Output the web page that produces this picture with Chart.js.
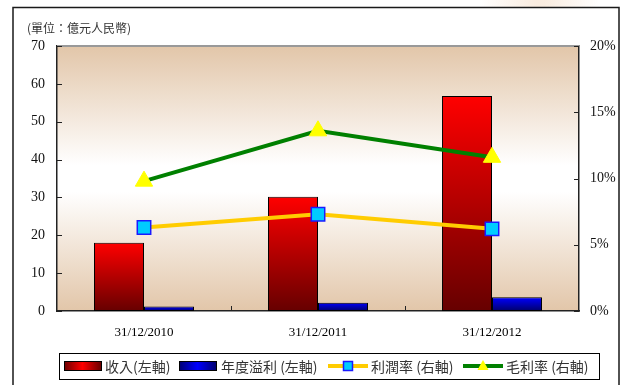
<!DOCTYPE html>
<html>
<head>
<meta charset="utf-8">
<script src="https://cdn.jsdelivr.net/npm/chart.js@4.4.0/dist/chart.umd.min.js"></script>
<style>
  body { margin: 0; background: #ffffff; }
  #wrap { width: 630px; height: 385px; }
</style>
</head>
<body>
<div id="wrap"><canvas id="mycanvas" width="630" height="385"></canvas></div>
<script>
const labels = ["31/12/2010", "31/12/2011", "31/12/2012"];
const revenue = [18.0, 30.2, 56.8];     // 收入 (億元人民幣)
const netProfit = [1.2, 2.2, 3.6];      // 年度溢利
const profitMargin = [6.3, 7.3, 6.2];   // 利潤率 %
const grossMargin = [9.8, 13.6, 11.6];  // 毛利率 %
const leftTicks = [0, 70, 10];
const rightTicks = [0, 20, 5];

const unitText = "(單位：億元人民幣)";
const cjk = '"Noto Sans CJK TC", "Noto Sans", sans-serif';
const serif = '"Liberation Serif", "DejaVu Serif", serif';

// gradient per bar, bright at the top and dark at the base
function barFill(top, bottom) {
  return function (c) {
    const chart = c.chart;
    if (!chart.chartArea || !c.parsed) return top;
    const y = chart.scales.y;
    const y0 = y.getPixelForValue(c.parsed.y);
    const y1 = y.getPixelForValue(0);
    const g = chart.ctx.createLinearGradient(0, y0, 0, y1);
    g.addColorStop(0, top);
    g.addColorStop(1, bottom);
    return g;
  };
}

const framePlugin = {
  id: "frame",
  beforeDraw(chart) {
    const ctx = chart.ctx;
    const a = chart.chartArea;
    ctx.save();
    // faint smudge at the top
    const rg = ctx.createRadialGradient(540, 0, 5, 540, 0, 60);
    rg.addColorStop(0, "rgba(238,200,165,0.35)");
    rg.addColorStop(1, "rgba(238,200,165,0)");
    ctx.fillStyle = rg;
    ctx.fillRect(470, 0, 140, 8);
    // plot background
    const g = ctx.createLinearGradient(0, a.top, 0, a.bottom);
    g.addColorStop(0, "#e2c6a9");
    g.addColorStop(0.45, "#ffffff");
    g.addColorStop(0.55, "#ffffff");
    g.addColorStop(1, "#e2c6a9");
    ctx.fillStyle = g;
    ctx.fillRect(a.left, a.top, a.right - a.left, a.bottom - a.top);
    // outer frame
    ctx.strokeStyle = "#1a1a1a";
    ctx.lineWidth = 1.5;
    ctx.beginPath();
    ctx.moveTo(13, 385);
    ctx.lineTo(13, 7.5);
    ctx.lineTo(619, 7.5);
    ctx.lineTo(619, 385);
    ctx.stroke();
    // unit
    ctx.fillStyle = "#333333";
    ctx.font = "12px " + cjk;
    ctx.textBaseline = "middle";
    ctx.fillText(unitText, 27, 28);
    ctx.restore();
  },
  afterDraw(chart) {
    const ctx = chart.ctx;
    const a = chart.chartArea;
    const x = chart.scales.x, y = chart.scales.y, y1 = chart.scales.y1;
    ctx.save();
    ctx.strokeStyle = "#999999";
    ctx.lineWidth = 2;
    ctx.beginPath();
    ctx.moveTo(a.left, a.top);
    ctx.lineTo(a.right, a.top);
    ctx.stroke();
    // inward tick marks
    ctx.strokeStyle = "#222222";
    ctx.lineWidth = 1;
    ctx.beginPath();
    y.ticks.forEach(t => {
      const p = Math.round(y.getPixelForValue(t.value)) + 0.5;
      ctx.moveTo(a.left, p); ctx.lineTo(a.left + 5, p);
    });
    y1.ticks.forEach(t => {
      const p = Math.round(y1.getPixelForValue(t.value)) + 0.5;
      ctx.moveTo(a.right, p); ctx.lineTo(a.right - 5, p);
    });
    for (let i = 1; i < labels.length; i++) {
      const p = Math.round((x.getPixelForValue(i - 1) + x.getPixelForValue(i)) / 2) + 0.5;
      ctx.moveTo(p, a.bottom); ctx.lineTo(p, a.bottom - 5);
    }
    ctx.stroke();

    // legend
    const lx = 59, ly = 353, lw = 540, lh = 26, cy = ly + lh / 2;
    ctx.fillStyle = "#ffffff";
    ctx.fillRect(lx, ly, lw, lh);
    ctx.strokeStyle = "#000000";
    ctx.lineWidth = 1;
    ctx.strokeRect(lx + 0.5, ly + 0.5, lw, lh);
    ctx.font = "14px " + cjk;
    ctx.textBaseline = "middle";
    const ds = chart.data.datasets;
    const boxes = [[64, "#ff0000", "#6a0000", 105], [179, "#0000ff", "#000070", 221]];
    boxes.forEach((b, i) => {
      const g = ctx.createLinearGradient(b[0], 0, b[0] + 37, 0);
      g.addColorStop(0, b[2]);
      g.addColorStop(0.5, b[1]);
      g.addColorStop(1, b[2]);
      ctx.fillStyle = g;
      ctx.fillRect(b[0], cy - 5, 37, 10);
      ctx.strokeStyle = "#000000";
      ctx.strokeRect(b[0] + 0.5, cy - 4.5, 37, 9);
      ctx.fillStyle = "#333333";
      ctx.fillText(ds[i].label, b[3], cy + 1);
    });
    const lines = [[328, 2, 371], [463, 3, 506]];
    lines.forEach(l => {
      const d = ds[l[1]];
      ctx.strokeStyle = d.borderColor;
      ctx.lineWidth = 4;
      ctx.beginPath();
      ctx.moveTo(l[0], cy); ctx.lineTo(l[0] + 40, cy);
      ctx.stroke();
      const mx = l[0] + 20;
      ctx.fillStyle = d.pointBackgroundColor;
      ctx.strokeStyle = d.pointBorderColor;
      ctx.lineWidth = 1.5;
      if (d.pointStyle === "rect") {
        ctx.fillRect(mx - 4.5, cy - 4.5, 9, 9);
        ctx.strokeRect(mx - 4.5, cy - 4.5, 9, 9);
      } else {
        ctx.beginPath();
        ctx.moveTo(mx, cy - 6); ctx.lineTo(mx + 5.5, cy + 4); ctx.lineTo(mx - 5.5, cy + 4);
        ctx.closePath();
        ctx.fill();
      }
      ctx.fillStyle = "#333333";
      ctx.fillText(d.label, l[2], cy + 1);
    });
    ctx.restore();
  }
};

const myChart = new Chart(document.getElementById("mycanvas"), {
  type: "bar",
  data: {
    labels: labels,
    datasets: [
      {
        label: "收入(左軸)",
        data: revenue,
        yAxisID: "y",
        backgroundColor: barFill("#ff0000", "#660000"),
        borderColor: "#000000",
        borderWidth: 1,
        borderSkipped: false,
        categoryPercentage: 0.575,
        barPercentage: 1.0,
        order: 2
      },
      {
        label: "年度溢利 (左軸)",
        data: netProfit,
        yAxisID: "y",
        backgroundColor: barFill("#0000ff", "#00006a"),
        borderColor: "#000000",
        borderWidth: 1,
        borderSkipped: false,
        categoryPercentage: 0.575,
        barPercentage: 1.0,
        order: 2
      },
      {
        type: "line",
        label: "利潤率 (右軸)",
        data: profitMargin,
        yAxisID: "y1",
        borderColor: "#ffcc00",
        borderWidth: 4,
        pointStyle: "rect",
        pointRadius: 9.5,
        pointBackgroundColor: "#00ccff",
        pointBorderColor: "#1a1aff",
        pointBorderWidth: 1.5,
        tension: 0,
        order: 1
      },
      {
        type: "line",
        label: "毛利率 (右軸)",
        data: grossMargin,
        yAxisID: "y1",
        borderColor: "#008000",
        borderWidth: 4,
        pointStyle: "triangle",
        pointRadius: 10,
        pointBackgroundColor: "#ffff00",
        pointBorderColor: "#ffff00",
        pointBorderWidth: 1,
        tension: 0,
        order: 0
      }
    ]
  },
  options: {
    responsive: false,
    animation: false,
    devicePixelRatio: 1,
    layout: { padding: { top: 46, left: 0, right: 0, bottom: 0 } },
    plugins: { legend: { display: false }, tooltip: { enabled: false } },
    scales: {
      x: {
        grid: { display: false, drawTicks: false },
        border: { display: true, color: "#222222", width: 1.5 },
        ticks: { color: "#000000", font: { family: serif, size: 13 }, padding: 14 },
        afterFit(s) { s.height = 74; }
      },
      y: {
        position: "left",
        min: leftTicks[0], max: leftTicks[1],
        grid: { display: false, drawTicks: false },
        border: { display: true, color: "#222222", width: 1.5 },
        ticks: { stepSize: leftTicks[2], color: "#111111", font: { family: serif, size: 14 }, padding: 12 },
        afterFit(s) { s.width = 57; }
      },
      y1: {
        position: "right",
        min: rightTicks[0], max: rightTicks[1],
        grid: { display: false, drawTicks: false },
        border: { display: true, color: "#222222", width: 1.5 },
        ticks: {
          stepSize: rightTicks[2], color: "#111111", font: { family: serif, size: 14 }, padding: 11,
          callback: v => v + "%"
        },
        afterFit(s) { s.width = 51; }
      }
    }
  },
  plugins: [framePlugin]
});
</script>
</body>
</html>
